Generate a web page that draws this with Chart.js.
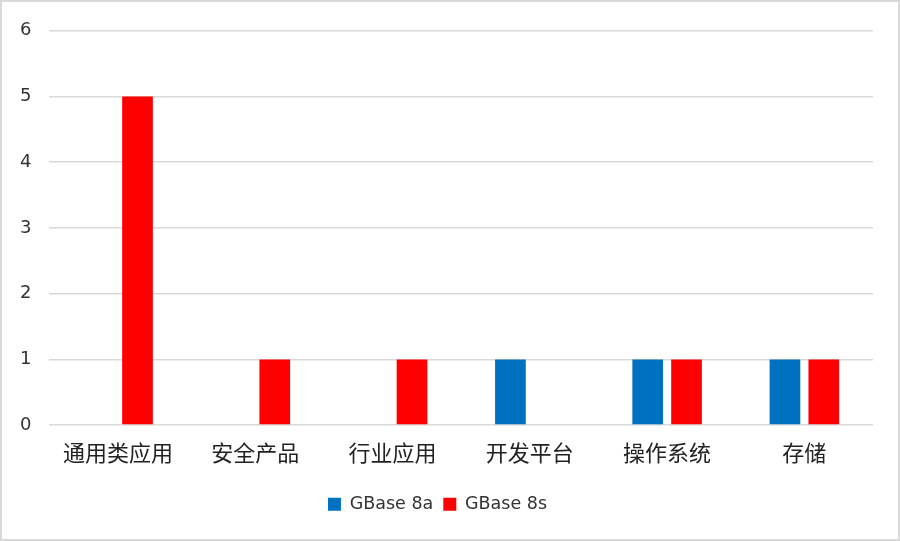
<!DOCTYPE html>
<html>
<head>
<meta charset="utf-8">
<script src="https://cdn.jsdelivr.net/npm/chart.js@4"></script>
<style>
  body { margin: 0; background: #fff; }
  #wrap { width: 900px; height: 541px; box-sizing: border-box; border: 2px solid #d9d9d9; background: #fff; }
</style>
</head>
<body>
<div id="wrap"><canvas id="dbChart" width="896" height="537"></canvas></div>
<script>
const categories = ['通用类应用', '安全产品', '行业应用', '开发平台', '操作系统', '存储'];
const gbase8a = [0, 0, 0, 1, 1, 1];
const gbase8s = [5, 1, 1, 0, 1, 1];
const yTicks = [0, 1, 2, 3, 4, 5, 6];

document.addEventListener('DOMContentLoaded', () => {
    const ctx = document.getElementById('dbChart').getContext('2d');
    const cjk = "'Noto Sans CJK SC', 'Noto Sans', sans-serif";
    const latin = "'DejaVu Sans', sans-serif";

    new Chart(ctx, {
        type: 'bar',
        data: {
            labels: categories,
            datasets: [{
                label: 'GBase 8a',
                data: gbase8a,
                backgroundColor: '#0070c0'
            }, {
                label: 'GBase 8s',
                data: gbase8s,
                backgroundColor: '#ff0000'
            }]
        },
        options: {
            responsive: false,
            animation: false,
            categoryPercentage: 0.566,
            barPercentage: 0.79,
            layout: { padding: { left: 0, right: 25, top: 17, bottom: 16 } },
            plugins: {
                tooltip: { enabled: false },
                legend: {
                    position: 'bottom',
                    labels: {
                        boxWidth: 13, boxHeight: 13, padding: 10,
                        color: '#333',
                        font: { family: latin, size: 17.5 }
                    }
                }
            },
            scales: {
                x: {
                    grid: { display: false },
                    border: { display: false },
                    ticks: { color: '#222', padding: 6, font: { family: cjk, size: 22 } },
                    afterFit: axis => { axis.height += 14; }
                },
                y: {
                    min: 0,
                    max: 6,
                    afterBuildTicks: axis => { axis.ticks = yTicks.map(v => ({ value: v })); },
                    grid: { color: '#d9d9d9', lineWidth: 1.5, drawTicks: false },
                    border: { display: false },
                    ticks: { color: '#333', padding: 18, font: { family: latin, size: 18 } }
                }
            }
        }
    });
});
</script>
</body>
</html>
